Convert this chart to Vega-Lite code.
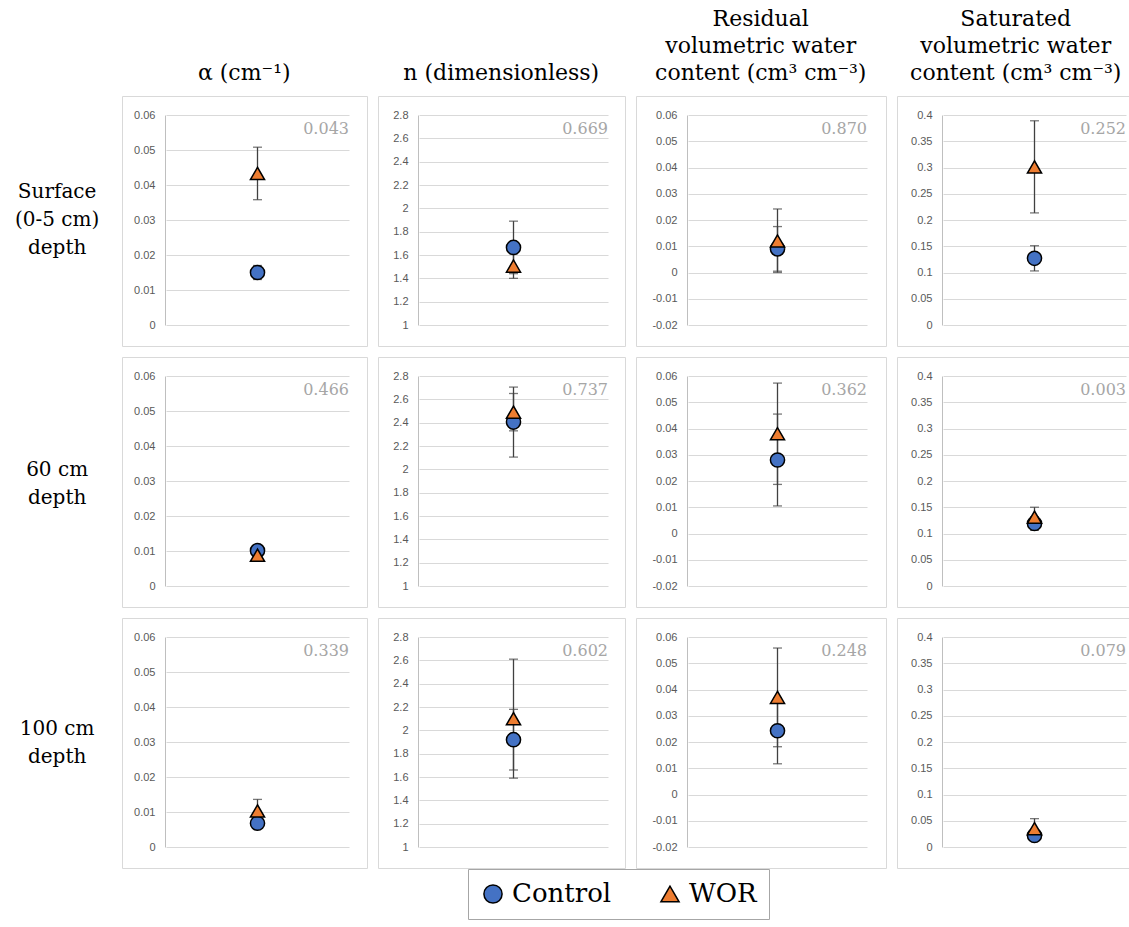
{
  "$schema": "https://vega.github.io/schema/vega-lite/v6.json",
  "padding": {"left": 0, "top": 7, "right": 0, "bottom": 0},
  "background": "white",
  "config": {
    "font": "DejaVu Serif",
    "view": {"stroke": "#d9d9d9", "strokeWidth": 1},
    "title": {"font": "DejaVu Serif", "fontSize": 22, "fontWeight": "normal", "color": "#000000", "lineHeight": 27, "offset": 11, "anchor": "middle"},
    "axis": {"labelFont": "Liberation Sans", "labelFontSize": 11, "labelColor": "#595959", "ticks": false, "domainColor": "#bfbfbf", "gridColor": "#d9d9d9", "labelPadding": 10, "labelOverlap": false, "tickCount": 20, "title": null},
    "legend": {"title": null, "orient": "none", "direction": "horizontal", "labelFont": "DejaVu Serif", "labelFontSize": 26, "labelColor": "#000000", "symbolSize": 330, "symbolStrokeColor": "#000000", "symbolStrokeWidth": 1.5, "strokeColor": "#a6a6a6", "padding": 12, "columnPadding": 45, "labelOffset": 6, "gridAlign": "all"}
  },
  "datasets": {
    "d": [
      {"param": "alpha", "depth": "Surface|(0-5 cm)|depth", "group": "Control", "mean": 0.015, "lo": 0.013, "hi": 0.017, "p": "0.043"},
      {"param": "alpha", "depth": "Surface|(0-5 cm)|depth", "group": "WOR", "mean": 0.0433, "lo": 0.0358, "hi": 0.0508, "p": "0.043"},
      {"param": "alpha", "depth": "60 cm|depth", "group": "Control", "mean": 0.0101, "lo": 0.0097, "hi": 0.0105, "p": "0.466"},
      {"param": "alpha", "depth": "60 cm|depth", "group": "WOR", "mean": 0.0088, "lo": 0.0085, "hi": 0.0091, "p": "0.466"},
      {"param": "alpha", "depth": "100 cm|depth", "group": "Control", "mean": 0.0068, "lo": 0.0061, "hi": 0.0075, "p": "0.339"},
      {"param": "alpha", "depth": "100 cm|depth", "group": "WOR", "mean": 0.0103, "lo": 0.007, "hi": 0.0136, "p": "0.339"},
      {"param": "n", "depth": "Surface|(0-5 cm)|depth", "group": "Control", "mean": 1.665, "lo": 1.44, "hi": 1.89, "p": "0.669"},
      {"param": "n", "depth": "Surface|(0-5 cm)|depth", "group": "WOR", "mean": 1.505, "lo": 1.4, "hi": 1.61, "p": "0.669"},
      {"param": "n", "depth": "60 cm|depth", "group": "Control", "mean": 2.405, "lo": 2.105, "hi": 2.705, "p": "0.737"},
      {"param": "n", "depth": "60 cm|depth", "group": "WOR", "mean": 2.49, "lo": 2.33, "hi": 2.65, "p": "0.737"},
      {"param": "n", "depth": "100 cm|depth", "group": "Control", "mean": 1.92, "lo": 1.66, "hi": 2.18, "p": "0.602"},
      {"param": "n", "depth": "100 cm|depth", "group": "WOR", "mean": 2.1, "lo": 1.59, "hi": 2.61, "p": "0.602"},
      {"param": "thr", "depth": "Surface|(0-5 cm)|depth", "group": "Control", "mean": 0.009, "lo": 0.0005, "hi": 0.0175, "p": "0.870"},
      {"param": "thr", "depth": "Surface|(0-5 cm)|depth", "group": "WOR", "mean": 0.012, "lo": 0.0, "hi": 0.0242, "p": "0.870"},
      {"param": "thr", "depth": "60 cm|depth", "group": "Control", "mean": 0.028, "lo": 0.0105, "hi": 0.0455, "p": "0.362"},
      {"param": "thr", "depth": "60 cm|depth", "group": "WOR", "mean": 0.038, "lo": 0.0187, "hi": 0.0573, "p": "0.362"},
      {"param": "thr", "depth": "100 cm|depth", "group": "Control", "mean": 0.0243, "lo": 0.0117, "hi": 0.0369, "p": "0.248"},
      {"param": "thr", "depth": "100 cm|depth", "group": "WOR", "mean": 0.037, "lo": 0.0182, "hi": 0.0558, "p": "0.248"},
      {"param": "ths", "depth": "Surface|(0-5 cm)|depth", "group": "Control", "mean": 0.127, "lo": 0.103, "hi": 0.151, "p": "0.252"},
      {"param": "ths", "depth": "Surface|(0-5 cm)|depth", "group": "WOR", "mean": 0.301, "lo": 0.2135, "hi": 0.389, "p": "0.252"},
      {"param": "ths", "depth": "60 cm|depth", "group": "Control", "mean": 0.119, "lo": 0.106, "hi": 0.132, "p": "0.003"},
      {"param": "ths", "depth": "60 cm|depth", "group": "WOR", "mean": 0.131, "lo": 0.112, "hi": 0.15, "p": "0.003"},
      {"param": "ths", "depth": "100 cm|depth", "group": "Control", "mean": 0.022, "lo": 0.015, "hi": 0.029, "p": "0.079"},
      {"param": "ths", "depth": "100 cm|depth", "group": "WOR", "mean": 0.035, "lo": 0.016, "hi": 0.054, "p": "0.079"}
    ]
  },
  "data": {"name": "d"},
  "spacing": 9,
  "hconcat": [
    {
      "transform": [{"filter": "datum.param === 'alpha' && datum.group === 'Control'"}],
      "facet": {"row": {"field": "depth", "type": "nominal", "sort": ["Surface|(0-5 cm)|depth", "60 cm|depth", "100 cm|depth"], "header": {"title": null, "labels": false}}},
      "spacing": 9,
      "spec": {
        "width": 112, "height": 250,
        "view": {"stroke": null},
        "layer": [
          {"transform": [{"filter": "datum.depth === 'Surface|(0-5 cm)|depth'"}],
           "mark": {"type": "text", "lineBreak": "|", "align": "center", "baseline": "middle", "dy": -29, "font": "DejaVu Serif", "fontSize": 20, "lineHeight": 28, "color": "#000000"},
           "encoding": {
             "x": {"datum": 0.51, "type": "quantitative", "scale": {"domain": [0, 1]}, "axis": null},
             "y": {"datum": 0.5, "type": "quantitative", "scale": {"domain": [0, 1]}, "axis": null},
             "text": {"field": "depth"}}},
          {"transform": [{"filter": "datum.depth !== 'Surface|(0-5 cm)|depth'"}],
           "mark": {"type": "text", "lineBreak": "|", "align": "center", "baseline": "middle", "dy": -10, "font": "DejaVu Serif", "fontSize": 20, "lineHeight": 28, "color": "#000000"},
           "encoding": {
             "x": {"datum": 0.51, "type": "quantitative"},
             "y": {"datum": 0.5, "type": "quantitative"},
             "text": {"field": "depth"}}}
        ]
      }
    },
    {
      "title": {"text": ["α (cm⁻¹)"]},
      "transform": [{"filter": "datum.param === 'alpha'"}],
      "facet": {"row": {"field": "depth", "type": "nominal", "sort": ["Surface|(0-5 cm)|depth", "60 cm|depth", "100 cm|depth"], "header": {"title": null, "labels": false}}},
      "spacing": 9,
      "spec": {
        "width": 245, "height": 250,
        "layer": [
          {"mark": {"type": "rule", "color": "#404040", "strokeWidth": 1.3},
           "encoding": {
             "x": {"datum": 0.5, "type": "quantitative", "scale": {"domain": [0, 1], "range": [44, 227]}, "axis": null},
             "y": {"field": "lo", "type": "quantitative", "scale": {"domain": [0, 0.06], "range": [229, 19], "nice": false, "zero": false},
                   "axis": {"values": [0, 0.01, 0.02, 0.03, 0.04, 0.05, 0.06], "labelExpr": "datum.value + ''", "offset": -44, "grid": true}},
             "y2": {"field": "hi"}}},
          {"mark": {"type": "tick", "orient": "horizontal", "size": 9, "thickness": 1.3, "color": "#404040"},
           "encoding": {"x": {"datum": 0.5, "type": "quantitative"}, "y": {"field": "lo", "type": "quantitative"}}},
          {"mark": {"type": "tick", "orient": "horizontal", "size": 9, "thickness": 1.3, "color": "#404040"},
           "encoding": {"x": {"datum": 0.5, "type": "quantitative"}, "y": {"field": "hi", "type": "quantitative"}}},
          {"mark": {"type": "point", "filled": true, "size": 200, "strokeWidth": 1.5, "opacity": 1},
           "encoding": {
             "x": {"datum": 0.5, "type": "quantitative"},
             "y": {"field": "mean", "type": "quantitative"},
             "shape": {"field": "group", "type": "nominal", "scale": {"domain": ["Control", "WOR"], "range": ["circle", "triangle-up"]},
                       "legend": {"orient": "none", "legendX": 468, "legendY": 773, "columns": 2, "gridAlign": "all", "symbolStrokeWidth": 1.5}},
             "fill": {"field": "group", "type": "nominal", "scale": {"domain": ["Control", "WOR"], "range": ["#4472C4", "#ED7D31"]},
                       "legend": {"orient": "none", "legendX": 468, "legendY": 773, "columns": 2, "gridAlign": "all", "symbolStrokeWidth": 1.5}},
             "stroke": {"field": "group", "type": "nominal", "scale": {"domain": ["Control", "WOR"], "range": ["#000000", "#000000"]},
                       "legend": {"orient": "none", "legendX": 468, "legendY": 773, "columns": 2, "gridAlign": "all", "symbolStrokeWidth": 1.5}}}},
          {"transform": [{"filter": "datum.group === 'Control'"}],
           "mark": {"type": "text", "align": "right", "baseline": "middle", "dy": 14, "font": "DejaVu Serif", "fontSize": 16, "color": "#a6a6a6"},
           "encoding": {"x": {"datum": 1, "type": "quantitative"}, "y": {"datum": 0.06, "type": "quantitative"}, "text": {"field": "p"}}}
        ]
      }
    },
    {
      "title": {"text": ["n (dimensionless)"]},
      "transform": [{"filter": "datum.param === 'n'"}],
      "facet": {"row": {"field": "depth", "type": "nominal", "sort": ["Surface|(0-5 cm)|depth", "60 cm|depth", "100 cm|depth"], "header": {"title": null, "labels": false}}},
      "spacing": 9,
      "spec": {
        "width": 247, "height": 250,
        "layer": [
          {"mark": {"type": "rule", "color": "#404040", "strokeWidth": 1.3},
           "encoding": {
             "x": {"datum": 0.5, "type": "quantitative", "scale": {"domain": [0, 1], "range": [41, 230]}, "axis": null},
             "y": {"field": "lo", "type": "quantitative", "scale": {"domain": [1, 2.8], "range": [229, 19], "nice": false, "zero": false},
                   "axis": {"values": [1, 1.2, 1.4, 1.6, 1.8, 2, 2.2, 2.4, 2.6, 2.8], "labelExpr": "datum.value + ''", "offset": -41, "grid": true}},
             "y2": {"field": "hi"}}},
          {"mark": {"type": "tick", "orient": "horizontal", "size": 9, "thickness": 1.3, "color": "#404040"},
           "encoding": {"x": {"datum": 0.5, "type": "quantitative"}, "y": {"field": "lo", "type": "quantitative"}}},
          {"mark": {"type": "tick", "orient": "horizontal", "size": 9, "thickness": 1.3, "color": "#404040"},
           "encoding": {"x": {"datum": 0.5, "type": "quantitative"}, "y": {"field": "hi", "type": "quantitative"}}},
          {"mark": {"type": "point", "filled": true, "size": 200, "strokeWidth": 1.5, "opacity": 1},
           "encoding": {
             "x": {"datum": 0.5, "type": "quantitative"},
             "y": {"field": "mean", "type": "quantitative"},
             "shape": {"field": "group", "type": "nominal"},
             "fill": {"field": "group", "type": "nominal"},
             "stroke": {"field": "group", "type": "nominal"}}},
          {"transform": [{"filter": "datum.group === 'Control'"}],
           "mark": {"type": "text", "align": "right", "baseline": "middle", "dy": 14, "font": "DejaVu Serif", "fontSize": 16, "color": "#a6a6a6"},
           "encoding": {"x": {"datum": 1, "type": "quantitative"}, "y": {"datum": 2.8, "type": "quantitative"}, "text": {"field": "p"}}}
        ]
      }
    },
    {
      "title": {"text": ["Residual", "volumetric water", "content (cm³ cm⁻³)"]},
      "transform": [{"filter": "datum.param === 'thr'"}],
      "facet": {"row": {"field": "depth", "type": "nominal", "sort": ["Surface|(0-5 cm)|depth", "60 cm|depth", "100 cm|depth"], "header": {"title": null, "labels": false}}},
      "spacing": 9,
      "spec": {
        "width": 250, "height": 250,
        "layer": [
          {"mark": {"type": "rule", "color": "#404040", "strokeWidth": 1.3},
           "encoding": {
             "x": {"datum": 0.5, "type": "quantitative", "scale": {"domain": [0, 1], "range": [52, 231]}, "axis": null},
             "y": {"field": "lo", "type": "quantitative", "scale": {"domain": [-0.02, 0.06], "range": [229, 19], "nice": false, "zero": false},
                   "axis": {"values": [-0.02, -0.01, 0, 0.01, 0.02, 0.03, 0.04, 0.05, 0.06], "labelExpr": "datum.value + ''", "offset": -52, "grid": true}},
             "y2": {"field": "hi"}}},
          {"mark": {"type": "tick", "orient": "horizontal", "size": 9, "thickness": 1.3, "color": "#404040"},
           "encoding": {"x": {"datum": 0.5, "type": "quantitative"}, "y": {"field": "lo", "type": "quantitative"}}},
          {"mark": {"type": "tick", "orient": "horizontal", "size": 9, "thickness": 1.3, "color": "#404040"},
           "encoding": {"x": {"datum": 0.5, "type": "quantitative"}, "y": {"field": "hi", "type": "quantitative"}}},
          {"mark": {"type": "point", "filled": true, "size": 200, "strokeWidth": 1.5, "opacity": 1},
           "encoding": {
             "x": {"datum": 0.5, "type": "quantitative"},
             "y": {"field": "mean", "type": "quantitative"},
             "shape": {"field": "group", "type": "nominal"},
             "fill": {"field": "group", "type": "nominal"},
             "stroke": {"field": "group", "type": "nominal"}}},
          {"transform": [{"filter": "datum.group === 'Control'"}],
           "mark": {"type": "text", "align": "right", "baseline": "middle", "dy": 14, "font": "DejaVu Serif", "fontSize": 16, "color": "#a6a6a6"},
           "encoding": {"x": {"datum": 1, "type": "quantitative"}, "y": {"datum": 0.06, "type": "quantitative"}, "text": {"field": "p"}}}
        ]
      }
    },
    {
      "title": {"text": ["Saturated", "volumetric water", "content (cm³ cm⁻³)"]},
      "transform": [{"filter": "datum.param === 'ths'"}],
      "facet": {"row": {"field": "depth", "type": "nominal", "sort": ["Surface|(0-5 cm)|depth", "60 cm|depth", "100 cm|depth"], "header": {"title": null, "labels": false}}},
      "spacing": 9,
      "spec": {
        "width": 238, "height": 250,
        "layer": [
          {"mark": {"type": "rule", "color": "#404040", "strokeWidth": 1.3},
           "encoding": {
             "x": {"datum": 0.5, "type": "quantitative", "scale": {"domain": [0, 1], "range": [46, 229]}, "axis": null},
             "y": {"field": "lo", "type": "quantitative", "scale": {"domain": [0, 0.4], "range": [229, 19], "nice": false, "zero": false},
                   "axis": {"values": [0, 0.05, 0.1, 0.15, 0.2, 0.25, 0.3, 0.35, 0.4], "labelExpr": "datum.value + ''", "offset": -46, "grid": true}},
             "y2": {"field": "hi"}}},
          {"mark": {"type": "tick", "orient": "horizontal", "size": 9, "thickness": 1.3, "color": "#404040"},
           "encoding": {"x": {"datum": 0.5, "type": "quantitative"}, "y": {"field": "lo", "type": "quantitative"}}},
          {"mark": {"type": "tick", "orient": "horizontal", "size": 9, "thickness": 1.3, "color": "#404040"},
           "encoding": {"x": {"datum": 0.5, "type": "quantitative"}, "y": {"field": "hi", "type": "quantitative"}}},
          {"mark": {"type": "point", "filled": true, "size": 200, "strokeWidth": 1.5, "opacity": 1},
           "encoding": {
             "x": {"datum": 0.5, "type": "quantitative"},
             "y": {"field": "mean", "type": "quantitative"},
             "shape": {"field": "group", "type": "nominal"},
             "fill": {"field": "group", "type": "nominal"},
             "stroke": {"field": "group", "type": "nominal"}}},
          {"transform": [{"filter": "datum.group === 'Control'"}],
           "mark": {"type": "text", "align": "right", "baseline": "middle", "dy": 14, "font": "DejaVu Serif", "fontSize": 16, "color": "#a6a6a6"},
           "encoding": {"x": {"datum": 1, "type": "quantitative"}, "y": {"datum": 0.4, "type": "quantitative"}, "text": {"field": "p"}}}
        ]
      }
    }
  ]
}
